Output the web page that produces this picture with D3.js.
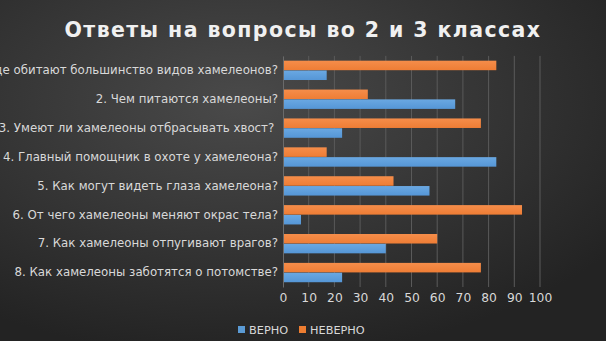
<!DOCTYPE html>
<html><head><meta charset="utf-8">
<script src="https://cdn.jsdelivr.net/npm/d3@7"></script>
<style>body{margin:0;padding:0;background:#2a2a2a;}svg{display:block;}text{white-space:pre;}</style>
</head><body>
<svg id="chart" width="606" height="341"></svg>
<script>
const categories = [
  "1. Где обитают большинство видов хамелеонов?",
  "2. Чем питаются хамелеоны?",
  "3. Умеют ли хамелеоны отбрасывать хвост? ",
  "4. Главный помощник в охоте у хамелеона?",
  "5. Как могут видеть глаза хамелеона?",
  "6. От чего хамелеоны меняют окрас тела?",
  "7. Как хамелеоны отпугивают врагов?",
  "8. Как хамелеоны заботятся о потомстве?"
];
const seriesNames = ["ВЕРНО", "НЕВЕРНО"];
const correct = [17, 67, 23, 83, 57, 7, 40, 23];
const incorrect = [83, 33, 77, 17, 43, 93, 60, 77];
const xTicks = [0,10,20,30,40,50,60,70,80,90,100];
const title = "Ответы на вопросы во 2 и 3 классах";

const svg = d3.select("#chart");
const W = 606, H = 341;
const defs = svg.append("defs");
const bg = defs.append("radialGradient").attr("id","bg").attr("cx","0.4").attr("cy","0.3").attr("r","0.75");
bg.append("stop").attr("offset","0").attr("stop-color","#4a4a4a");
bg.append("stop").attr("offset","1").attr("stop-color","#232323");
const gb = defs.append("linearGradient").attr("id","gBlue").attr("x1",0).attr("y1",0).attr("x2",0).attr("y2",1);
gb.append("stop").attr("offset","0").attr("stop-color","#6aa8e2");
gb.append("stop").attr("offset","1").attr("stop-color","#5596d6");
const go = defs.append("linearGradient").attr("id","gOrange").attr("x1",0).attr("y1",0).attr("x2",0).attr("y2",1);
go.append("stop").attr("offset","0").attr("stop-color","#f58d4a");
go.append("stop").attr("offset","1").attr("stop-color","#ee7d35");

svg.append("rect").attr("width",W).attr("height",H).attr("fill","url(#bg)");

const x = d3.scaleLinear().domain([0,100]).range([283,540]);
const y = d3.scaleBand().domain(categories).range([55.9,287]).paddingInner(0.31).paddingOuter(0.155);
const sub = d3.scaleBand().domain(["НЕВЕРНО","ВЕРНО"]).range([0,y.bandwidth()]).padding(0.03);

// gridlines
svg.append("g").selectAll("line").data(xTicks.slice(1)).join("line")
  .attr("x1",d=>x(d)).attr("x2",d=>x(d)).attr("y1",55.9).attr("y2",287)
  .attr("stroke","#5a5a5a").attr("stroke-width",1);

// bars
const g = svg.append("g");
categories.forEach((c,i)=>{
  g.append("rect").attr("x",x(0)).attr("y",y(c)+sub("НЕВЕРНО")).attr("width",x(incorrect[i])-x(0)).attr("height",sub.bandwidth()).attr("fill","url(#gOrange)");
  g.append("rect").attr("x",x(0)).attr("y",y(c)+sub("ВЕРНО")).attr("width",x(correct[i])-x(0)).attr("height",sub.bandwidth()).attr("fill","url(#gBlue)");
});

// y axis
const ya = svg.append("g").attr("transform",`translate(${x(0)},0)`)
  .call(d3.axisLeft(y).tickSize(0).tickPadding(5));
ya.select(".domain").attr("stroke","#6a6a6a");
ya.selectAll("text").attr("fill","#d9d9d9").attr("font-family","DejaVu Sans").attr("font-size","11.8px");

// x axis
const xa = svg.append("g").attr("transform","translate(0,287)")
  .call(d3.axisBottom(x).tickValues(xTicks).tickSize(0).tickPadding(6));
xa.select(".domain").remove();
xa.selectAll("text").attr("fill","#d9d9d9").attr("font-family","DejaVu Sans").attr("font-size","12.3px");

// title
svg.append("text").attr("x",303).attr("y",37).attr("text-anchor","middle")
  .attr("fill","#f0f0f0").attr("font-family","DejaVu Sans").attr("font-weight","bold")
  .attr("font-size","20.5px").attr("letter-spacing","1.4px").text(title);

// legend
const leg = svg.append("g");
const legItems = [{n:"ВЕРНО",c:"#5b9bd5",x:238},{n:"НЕВЕРНО",c:"#ed7d31",x:299}];
legItems.forEach(d=>{
  leg.append("rect").attr("x",d.x).attr("y",326).attr("width",7).attr("height",7).attr("fill",d.c);
  leg.append("text").attr("x",d.x+11).attr("y",333.5).attr("fill","#d9d9d9")
    .attr("font-family","DejaVu Sans").attr("font-size","11.3px").text(d.n);
});
</script>
</body></html>
